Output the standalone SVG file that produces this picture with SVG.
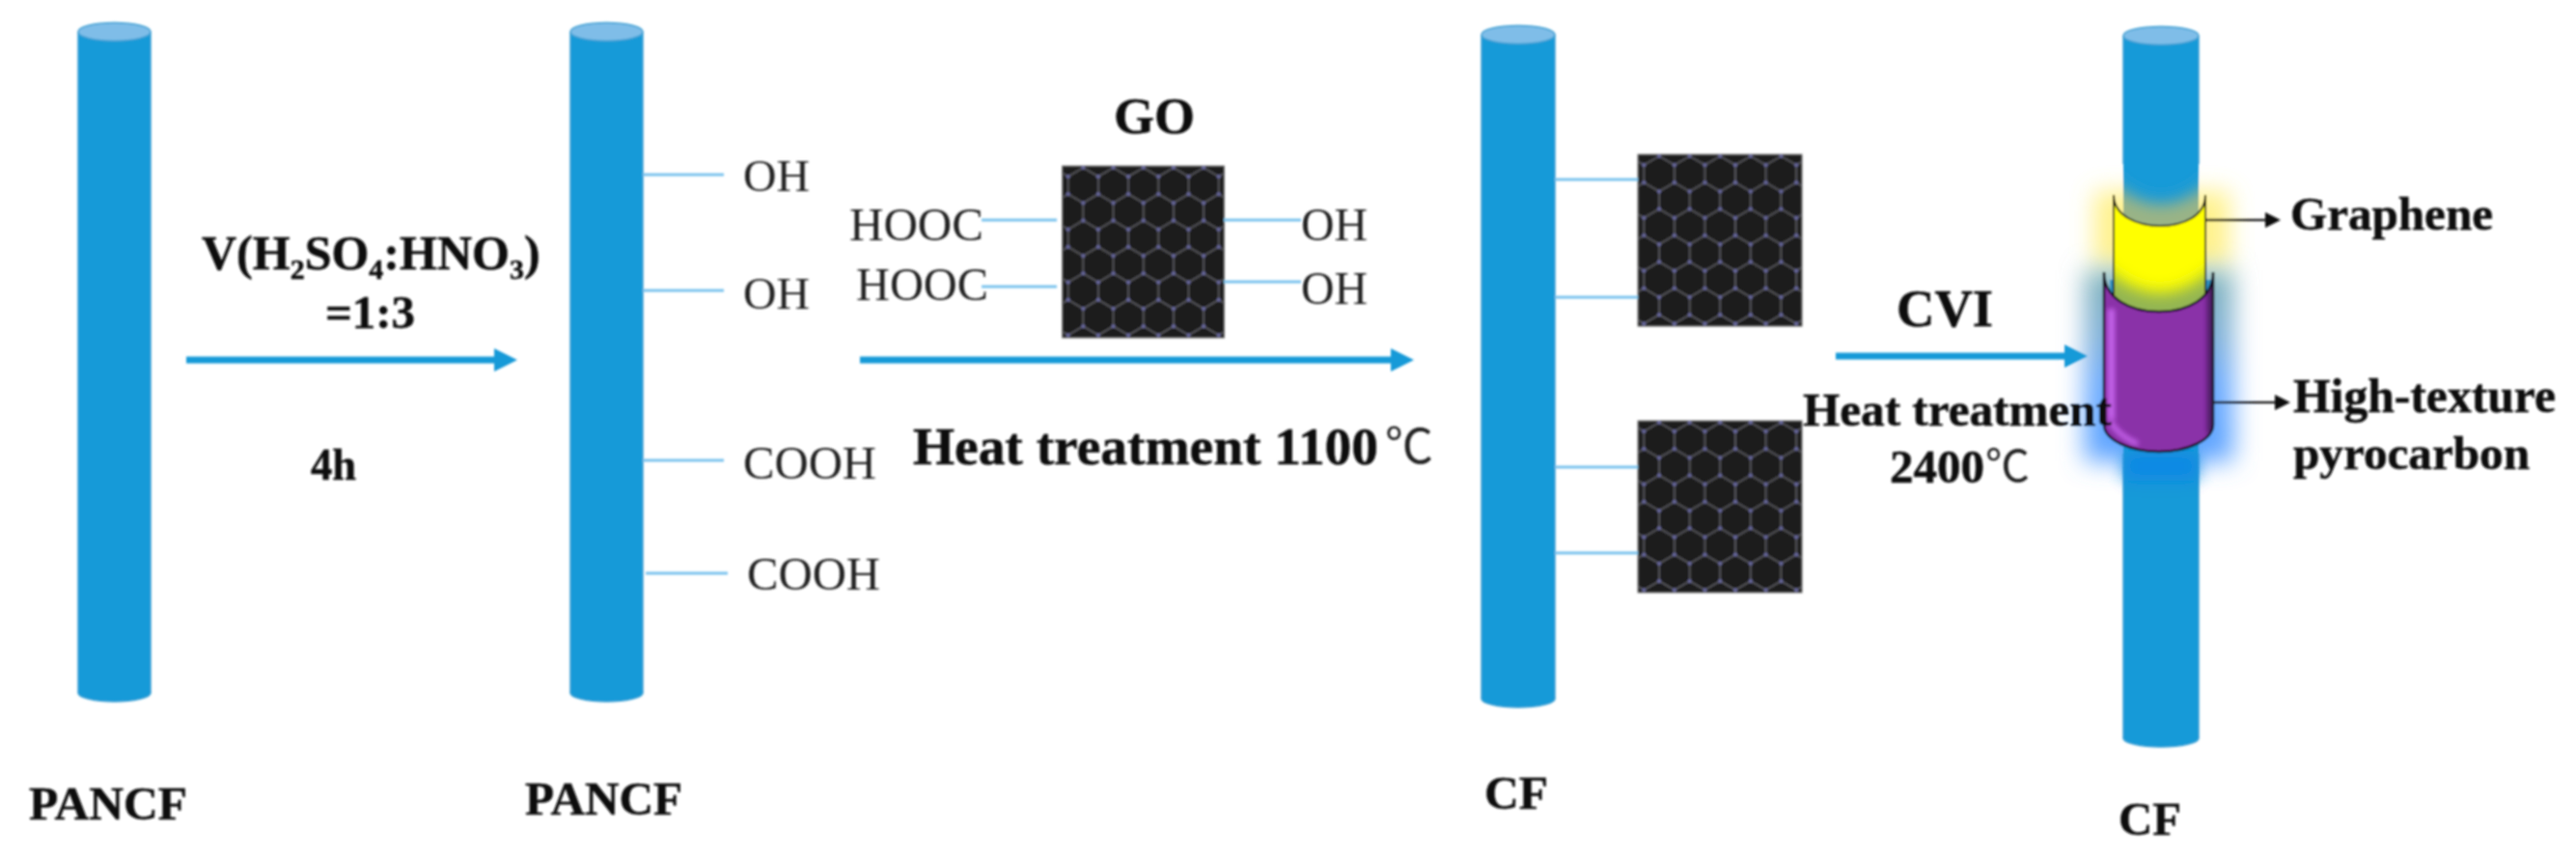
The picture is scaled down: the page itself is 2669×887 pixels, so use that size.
<svg xmlns="http://www.w3.org/2000/svg" width="2669" height="887" viewBox="0 0 2669 887">
<style>
.t{font-family:"Liberation Serif","Times New Roman",serif;fill:#111}
.b{font-weight:700;stroke:#111;stroke-width:.5}
.r{font-weight:400;fill:#222}
.c{font-family:"Noto Sans CJK SC","Liberation Serif",sans-serif;fill:#222;font-weight:400}
.body{fill:#189ad8;stroke:#3b9fd3;stroke-width:1.5}
.cap{fill:#7fbde8;stroke:#3b9fd3;stroke-width:1.5}
.stub{stroke:#7cc3ee;stroke-width:3;fill:none}
.flow{stroke:#189ad8;stroke-width:7;fill:none;marker-end:url(#ah)}
.lead{stroke:#222;stroke-width:2.5;fill:none;marker-end:url(#ak)}
</style>
<defs>
<marker id="ah" markerUnits="userSpaceOnUse" markerWidth="26" markerHeight="26" refX="1" refY="13" orient="auto"><path d="M0,1L24,13L0,25Z" fill="#189ad8"/></marker>
<marker id="ak" markerUnits="userSpaceOnUse" markerWidth="18" markerHeight="18" refX="1" refY="9" orient="auto"><path d="M0,1L16,9L0,17Z" fill="#111"/></marker>
<filter id="soft" filterUnits="userSpaceOnUse" x="0" y="0" width="2669" height="887"><feGaussianBlur stdDeviation="0.8"/></filter>
<filter id="gy" x="-60%" y="-80%" width="220%" height="260%"><feGaussianBlur stdDeviation="12"/></filter>
<filter id="gb" x="-60%" y="-60%" width="220%" height="220%"><feGaussianBlur stdDeviation="13"/></filter>
<filter id="g8" x="-30%" y="-60%" width="160%" height="220%"><feGaussianBlur stdDeviation="8"/></filter>
<filter id="g3" x="-200%" y="-30%" width="500%" height="160%"><feGaussianBlur stdDeviation="2.5"/></filter>
<pattern id="hex" patternUnits="userSpaceOnUse" width="31.2" height="54.8" x="6.2" y="1.7">
<path d="M0,9.15V27.45M31.2,9.15V27.45M0,9.15L15.6,0L31.2,9.15M0,27.45L15.6,36.6L31.2,27.45M15.6,36.6V54.8" fill="none" stroke="#5c5c62" stroke-width="1.600"/>
<g fill="#6a6aa4"><circle cx="15.6" cy="0" r="2"/><circle cx="15.6" cy="54.8" r="2"/><circle cx="15.6" cy="36.6" r="2"/><circle cx="0" cy="9.15" r="2"/><circle cx="31.2" cy="9.15" r="2"/><circle cx="0" cy="27.45" r="2"/><circle cx="31.2" cy="27.45" r="2"/></g>
</pattern>
<g id="sheet"><rect width="168" height="178" fill="#1a1a1a" stroke="#777" stroke-width="1"/><rect width="168" height="178" fill="url(#hex)"/></g>
<linearGradient id="blueGlow" x1="0" y1="0" x2="0" y2="1"><stop offset="0" stop-color="#7fb2b8"/><stop offset=".35" stop-color="#7fb0d8"/><stop offset=".6" stop-color="#6aaaff"/><stop offset="1" stop-color="#5aa2ff"/></linearGradient>
<clipPath id="fibreClip"><rect x="2200" y="150" width="78" height="110"/></clipPath>
<clipPath id="yellowClip"><path d="M2190,202C2190,224 2215,234 2238,234C2262,234 2285,224 2285,202L2285,335L2190,335Z"/></clipPath>
<clipPath id="purpleClip"><path d="M2180,282C2180,310 2208,323 2237,323C2266,323 2293,310 2293,282L2293,440C2293,456 2266,468 2237,468C2208,468 2180,456 2180,440Z"/></clipPath>
</defs>
<rect width="2669" height="887" fill="#fff"/>
<g filter="url(#soft)">
<g id="fibre-1"><ellipse class="body" cx="118.500" cy="718" rx="37.500" ry="9"/><rect x="81" y="33" width="75" height="685" fill="#189ad8"/><path d="M81,33V718M156,33V718" stroke="#3b9fd3" stroke-width="1.5"/><ellipse class="cap" cx="118.500" cy="33" rx="37.500" ry="9.500"/></g>
<g id="fibre-2"><ellipse class="body" cx="628.500" cy="718" rx="37.500" ry="9"/><rect x="591" y="33" width="75" height="685" fill="#189ad8"/><path d="M591,33V718M666,33V718" stroke="#3b9fd3" stroke-width="1.5"/><ellipse class="cap" cx="628.500" cy="33" rx="37.500" ry="9.500"/></g>
<g id="fibre-3"><ellipse class="body" cx="1573" cy="724" rx="38" ry="9"/><rect x="1535" y="36" width="76" height="688" fill="#189ad8"/><path d="M1535,36V724M1611,36V724" stroke="#3b9fd3" stroke-width="1.5"/><ellipse class="cap" cx="1573" cy="36" rx="38" ry="9.500"/></g>
<g id="go-sheet"><use href="#sheet" x="1100.500" y="172"/></g>
<g id="cf-sheet-1"><use href="#sheet" transform="translate(1697,160) scale(1.012,1)"/></g>
<g id="cf-sheet-2"><use href="#sheet" transform="translate(1697,436) scale(1.012,1)"/></g>
<g id="coated-fibre">
<rect x="2170" y="198" width="140" height="78" fill="#ffee70" opacity=".8" filter="url(#gy)"/>
<rect x="2160" y="280" width="154" height="198" fill="url(#blueGlow)" filter="url(#gb)"/>
<ellipse class="body" cx="2239" cy="765" rx="39" ry="9"/>
<rect x="2200" y="37" width="78" height="728" fill="#189ad8"/>
<path d="M2200,37V170M2278,37V170M2200,470V765M2278,470V765" stroke="#3b9fd3" stroke-width="1.5"/>
<ellipse class="cap" cx="2239" cy="37" rx="39" ry="9.500"/>
<g clip-path="url(#fibreClip)"><path d="M2185,185Q2239,238 2293,185L2293,250L2185,250Z" fill="#9ab486" filter="url(#g8)"/></g>
<rect x="2200" y="468" width="78" height="30" fill="#0a85e6" opacity=".8" filter="url(#g8)"/>
<rect x="2186" y="290" width="106" height="40" fill="#2f8fc0"/>
<path d="M2190,202C2190,224 2215,234 2238,234C2262,234 2285,224 2285,202L2285,335L2190,335Z" fill="#ffff00"/>
<g clip-path="url(#yellowClip)"><path d="M2175,272Q2238,335 2300,272L2300,345L2175,345Z" fill="#93b552" filter="url(#g8)"/></g>
<path d="M2190,202C2190,224 2215,234 2238,234C2262,234 2285,224 2285,202L2285,335L2190,335Z" fill="none" stroke="#1c1c1c" stroke-width="2"/>
<path d="M2180,282C2180,310 2208,323 2237,323C2266,323 2293,310 2293,282L2293,440C2293,456 2266,468 2237,468C2208,468 2180,456 2180,440Z" fill="#8a31a8"/>
<g clip-path="url(#purpleClip)"><rect x="2184" y="320" width="7" height="115" fill="#c865ee" filter="url(#g3)"/><path d="M2186,436Q2195,452 2215,460" stroke="#c865ee" stroke-width="5" fill="none" filter="url(#g3)"/><rect x="2287" y="290" width="8" height="160" fill="#4a1a60" filter="url(#g3)"/></g>
<path d="M2180,282C2180,310 2208,323 2237,323C2266,323 2293,310 2293,282L2293,440C2293,456 2266,468 2237,468C2208,468 2180,456 2180,440Z" fill="none" stroke="#14101c" stroke-width="2.500"/>
</g>
<g id="connectors">
<path class="flow" d="M193,373H513"/>
<path class="flow" d="M891,373H1442"/>
<path class="flow" d="M1902,369H2140"/>
<path class="stub" d="M666,181H750M666,301H750M666,477H750M669,594H754"/>
<path class="stub" d="M1017,228H1095M1017,297H1095M1268,228H1348M1268,292H1348"/>
<path class="stub" d="M1611,186H1697M1611,308H1697M1611,484H1697M1611,573H1697"/>
<path class="lead" d="M2285,228H2348"/>
<path class="lead" d="M2293,417H2358"/>
</g>
<g id="labels">
<text class="t b" x="30" y="849" font-size="48" textLength="164" lengthAdjust="spacingAndGlyphs">PANCF</text>
<text class="t b" x="544" y="844" font-size="48" textLength="163" lengthAdjust="spacingAndGlyphs">PANCF</text>
<text class="t b" x="1538" y="838" font-size="49" textLength="66" lengthAdjust="spacingAndGlyphs">CF</text>
<text class="t b" x="2195" y="865" font-size="49" textLength="65" lengthAdjust="spacingAndGlyphs">CF</text>
<text class="t b" x="209" y="279" font-size="50">V(H<tspan font-size="30" dy="10">2</tspan><tspan dy="-10">SO</tspan><tspan font-size="30" dy="10">4</tspan><tspan dy="-10">:HNO</tspan><tspan font-size="30" dy="10">3</tspan><tspan dy="-10">)</tspan></text>
<text class="t b" x="337" y="340" font-size="49" textLength="93" lengthAdjust="spacingAndGlyphs">=1:3</text>
<text class="t b" x="322" y="497" font-size="47" textLength="47" lengthAdjust="spacingAndGlyphs">4h</text>
<text class="t r" x="770" y="198" font-size="47" textLength="69" lengthAdjust="spacingAndGlyphs">OH</text>
<text class="t r" x="770" y="320" font-size="47" textLength="69" lengthAdjust="spacingAndGlyphs">OH</text>
<text class="t r" x="770" y="496" font-size="48" textLength="138" lengthAdjust="spacingAndGlyphs">COOH</text>
<text class="t r" x="774" y="611" font-size="48" textLength="138" lengthAdjust="spacingAndGlyphs">COOH</text>
<text class="t b" x="1154" y="138" font-size="53" textLength="84" lengthAdjust="spacingAndGlyphs">GO</text>
<text class="t r" x="880" y="249" font-size="49" textLength="139" lengthAdjust="spacingAndGlyphs">HOOC</text>
<text class="t r" x="887" y="311" font-size="49" textLength="137" lengthAdjust="spacingAndGlyphs">HOOC</text>
<text class="t r" x="1348" y="249" font-size="49" textLength="69" lengthAdjust="spacingAndGlyphs">OH</text>
<text class="t r" x="1348" y="315" font-size="49" textLength="69" lengthAdjust="spacingAndGlyphs">OH</text>
<text class="t b" x="946" y="481" font-size="55" textLength="482" lengthAdjust="spacingAndGlyphs">Heat treatment 1100</text>
<text class="c" x="1435" y="480" font-size="50">℃</text>
<text class="t b" x="1965" y="338" font-size="54.500" textLength="100" lengthAdjust="spacingAndGlyphs">CVI</text>
<text class="t b" x="1868" y="441" font-size="49" textLength="320" lengthAdjust="spacingAndGlyphs">Heat treatment</text>
<text class="t b" x="1958" y="500" font-size="49" textLength="98" lengthAdjust="spacingAndGlyphs">2400</text>
<text class="c" x="2057" y="499" font-size="46">℃</text>
<text class="t b" x="2373" y="238" font-size="49" textLength="210" lengthAdjust="spacingAndGlyphs">Graphene</text>
<text class="t b" x="2376" y="427" font-size="49.600" textLength="272" lengthAdjust="spacingAndGlyphs">High-texture</text>
<text class="t b" x="2376" y="486" font-size="49" textLength="245" lengthAdjust="spacingAndGlyphs">pyrocarbon</text>
</g>
</g>
</svg>
